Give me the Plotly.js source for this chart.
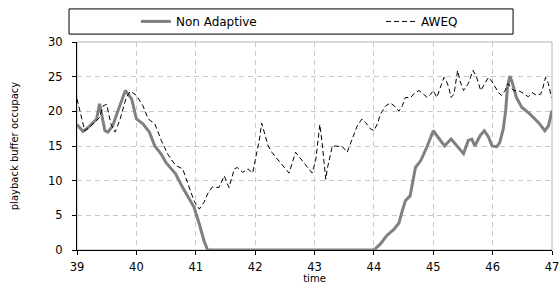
<!DOCTYPE html>
<html>
<head>
<meta charset="utf-8">
<script src="https://cdn.plot.ly/plotly-3.0.1.min.js"></script>
<style>html,body{margin:0;padding:0;background:#fff;}#chart{width:560px;height:284px;}</style>
</head>
<body>
<div id="chart"></div>
<script>
// Non Adaptive series
const naTime = [39, 39.1, 39.18, 39.27, 39.33, 39.38, 39.47, 39.52, 39.6, 39.69, 39.815, 39.92, 40.0, 40.11, 40.22, 40.31, 40.42, 40.5, 40.56, 40.66, 40.78, 40.89, 40.97, 41.06, 41.14, 41.2, 44.0, 44.11, 44.22, 44.34, 44.42, 44.48, 44.53, 44.61, 44.65, 44.7, 44.79, 44.84, 44.9, 45.0, 45.1, 45.19, 45.3, 45.4, 45.51, 45.59, 45.65, 45.7, 45.79, 45.86, 45.93, 45.99, 46.07, 46.12, 46.18, 46.22, 46.25, 46.29, 46.33, 46.4, 46.49, 46.63, 46.77, 46.88, 46.94, 47.0];
const naBuffer = [18.1, 17.1, 17.6, 18.4, 18.9, 21.1, 17.2, 17.0, 17.9, 20.1, 23.0, 21.8, 18.9, 18.2, 17.0, 15.0, 13.8, 12.6, 12.0, 11.0, 9.0, 7.4, 6.2, 3.75, 1.3, 0, 0, 0.87, 2.1, 3.0, 3.85, 5.7, 7.1, 7.8, 9.5, 11.9, 12.9, 13.8, 15.0, 17.2, 16.0, 15.0, 16.0, 15.0, 13.9, 15.8, 16.0, 15.0, 16.5, 17.2, 16.3, 15.0, 14.9, 15.5, 17.5, 20.1, 23.5, 25.1, 24.2, 22.0, 20.6, 19.6, 18.4, 17.2, 17.9, 20.1];

// AWEQ series
const aweqTime = [39, 39.13, 39.21, 39.3, 39.38, 39.44, 39.5, 39.57, 39.64, 39.72, 39.83, 39.9, 40.0, 40.11, 40.2, 40.31, 40.42, 40.53, 40.6, 40.66, 40.78, 40.83, 40.89, 40.97, 41.06, 41.14, 41.2, 41.28, 41.39, 41.48, 41.56, 41.65, 41.7, 41.79, 41.88, 41.96, 42.0, 42.07, 42.11, 42.18, 42.22, 42.28, 42.42, 42.57, 42.62, 42.68, 42.82, 42.96, 43.02, 43.06, 43.09, 43.13, 43.16, 43.19, 43.22, 43.27, 43.3, 43.35, 43.47, 43.55, 43.63, 43.72, 43.8, 43.86, 43.94, 44.0, 44.06, 44.11, 44.2, 44.28, 44.37, 44.42, 44.48, 44.53, 44.62, 44.67, 44.76, 44.84, 44.9, 44.96, 45.0, 45.06, 45.12, 45.18, 45.22, 45.26, 45.3, 45.35, 45.41, 45.45, 45.51, 45.59, 45.67, 45.73, 45.8, 45.87, 45.93, 45.98, 46.04, 46.1, 46.15, 46.21, 46.26, 46.35, 46.46, 46.54, 46.6, 46.67, 46.74, 46.81, 46.85, 46.89, 46.94, 46.99];
const aweqBuffer = [21.8, 17.2, 17.7, 18.4, 19.1, 20.8, 21.0, 18.2, 17.0, 18.7, 22.0, 22.9, 22.3, 20.8, 18.9, 18.2, 15.8, 13.8, 13.0, 12.2, 11.7, 10.5, 9.3, 7.1, 5.9, 6.9, 8.1, 9.1, 9.0, 10.7, 9.0, 11.7, 11.9, 11.2, 11.7, 11.1, 12.9, 15.8, 18.3, 16.3, 15.0, 14.1, 12.6, 11.1, 12.4, 14.1, 12.6, 11.1, 12.9, 15.8, 18.1, 15.3, 12.9, 10.2, 11.9, 13.8, 15.0, 15.0, 14.9, 14.1, 15.8, 17.9, 18.9, 18.4, 17.5, 17.2, 18.2, 19.6, 20.8, 21.2, 20.6, 20.0, 20.8, 22.0, 22.0, 22.5, 23.0, 22.5, 22.0, 22.5, 23.0, 22.0, 23.5, 24.9, 24.4, 23.5, 22.0, 22.5, 25.9, 24.4, 23.0, 24.0, 25.9, 24.9, 23.0, 24.0, 24.9, 24.4, 23.5, 22.7, 22.3, 23.0, 24.0, 23.0, 22.9, 22.5, 22.1, 22.7, 22.3, 22.5, 23.5, 24.9, 24.0, 22.0];

const xTicks = [39, 40, 41, 42, 43, 44, 45, 46, 47];
const yTicks = [0, 5, 10, 15, 20, 25, 30];

const FONT = "DejaVu Sans, Liberation Sans, Arial, sans-serif";

const traces = [
  {x: naTime, y: naBuffer, name: 'Non Adaptive', type: 'scatter', mode: 'lines',
   line: {color: '#808080', width: 3}, legend: 'legend'},
  {x: aweqTime, y: aweqBuffer, name: 'AWEQ', type: 'scatter', mode: 'lines',
   line: {color: '#000000', width: 1, dash: '5px,3px'}, legend: 'legend2'}
];

const legendBase = {orientation: 'h', xanchor: 'left', y: 1.099, yanchor: 'middle',
  bgcolor: 'rgba(0,0,0,0)', borderwidth: 0,
  font: {family: FONT, size: 12, color: '#000'}};

const layout = {
  width: 560, height: 284,
  margin: {l: 77, r: 8, t: 42, b: 34, pad: 0, autoexpand: false},
  paper_bgcolor: '#ffffff', plot_bgcolor: '#ffffff',
  font: {family: FONT, size: 11, color: '#000'},
  showlegend: true,
  legend: Object.assign({}, legendBase, {x: 0.124}),
  legend2: Object.assign({}, legendBase, {x: 0.64}),
  xaxis: {range: [39, 47], tickvals: xTicks, ticktext: xTicks.map(String),
    showline: true, linecolor: '#000', linewidth: 1, ticks: 'outside', ticklen: 4, tickcolor: '#000',
    showgrid: true, gridcolor: '#c8c8c8', griddash: '5px,4px', gridwidth: 1, zeroline: false,
    layer: 'below traces', ticklabelstandoff: 2,
    title: {text: 'time', font: {family: FONT, size: 10, color: '#000'}, standoff: 6},
    tickfont: {family: FONT, size: 11.5, color: '#000'}, automargin: false, fixedrange: true},
  yaxis: {range: [0, 30], tickvals: yTicks, ticktext: yTicks.map(String),
    showline: true, linecolor: '#000', linewidth: 1, ticks: 'outside', ticklen: 4, tickcolor: '#000',
    showgrid: true, gridcolor: '#c8c8c8', griddash: '5px,4px', gridwidth: 1, zeroline: false,
    layer: 'below traces', ticklabelstandoff: 7,
    title: {text: 'playback buffer occupacy', font: {family: FONT, size: 10, color: '#000'}, standoff: 27},
    tickfont: {family: FONT, size: 11.5, color: '#000'}, automargin: false, fixedrange: true},
  shapes: [
    {type: 'rect', xref: 'paper', yref: 'paper', x0: 0, x1: 1, y0: 0, y1: 1,
     line: {color: '#b4b4b4', width: 1}, layer: 'below'},
    {type: 'rect', xref: 'paper', yref: 'paper', x0: -0.0168, x1: 0.918, y0: 1.038, y1: 1.159,
     line: {color: '#000', width: 1}, fillcolor: 'rgba(0,0,0,0)', layer: 'above'}
  ]
};

Plotly.newPlot('chart', traces, layout, {displayModeBar: false, staticPlot: true});
</script>
</body>
</html>
